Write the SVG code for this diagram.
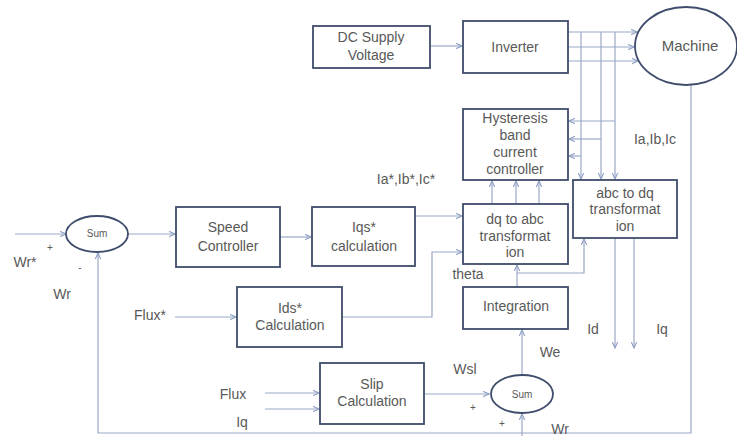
<svg xmlns="http://www.w3.org/2000/svg" width="737" height="436" viewBox="0 0 737 436">
<defs>
<marker id="ah" viewBox="0 0 10 10" refX="9" refY="5" markerWidth="7" markerHeight="7" orient="auto" markerUnits="userSpaceOnUse">
<path d="M0,1 L9,5 L0,9" fill="none" stroke="#8fa0c4" stroke-width="1.6"/>
</marker>
</defs>
<style>
.box{fill:#fff;stroke:#3f4c6b;stroke-width:1.8}
.ell{fill:#fff;stroke:#3f4c6b;stroke-width:1.8}
.ln{fill:none;stroke:#9aa8c6;stroke-width:1.2}
.ar{marker-end:url(#ah)}
text{font-family:"Liberation Sans",Arial,sans-serif;font-size:14px;fill:#595959;text-anchor:middle;dominant-baseline:middle}
.sm{font-size:10px}
</style>
<rect width="737" height="436" fill="#fff"/>
<g id="connectors">
<line class="ln ar" x1="430" y1="46" x2="462" y2="46"/>
<line class="ln ar" x1="568" y1="32" x2="637" y2="32"/>
<line class="ln ar" x1="568" y1="47" x2="634" y2="47"/>
<line class="ln ar" x1="568" y1="61" x2="638" y2="61"/>
<line class="ln ar" x1="581" y1="32" x2="581" y2="179"/>
<line class="ln ar" x1="601" y1="32" x2="601" y2="179"/>
<line class="ln ar" x1="615" y1="32" x2="615" y2="179"/>
<line class="ln ar" x1="615" y1="121" x2="569" y2="121"/>
<line class="ln ar" x1="601" y1="139" x2="569" y2="139"/>
<line class="ln ar" x1="581" y1="156" x2="569" y2="156"/>
<line class="ln ar" x1="492" y1="204" x2="492" y2="181"/>
<line class="ln ar" x1="516" y1="204" x2="516" y2="181"/>
<line class="ln ar" x1="539" y1="204" x2="539" y2="181"/>
<line class="ln ar" x1="15" y1="234" x2="66" y2="234"/>
<line class="ln ar" x1="128" y1="234" x2="175" y2="234"/>
<line class="ln ar" x1="280" y1="237" x2="311" y2="237"/>
<line class="ln ar" x1="415" y1="216" x2="462" y2="216"/>
<line class="ln ar" x1="175" y1="317" x2="236" y2="317"/>
<polyline class="ln ar" points="342,317 432,317 432,252 462,252"/>
<line class="ln ar" x1="517" y1="287" x2="517" y2="265"/>
<polyline class="ln ar" points="517,273 584,273 584,239"/>
<line class="ln ar" x1="615" y1="238" x2="615" y2="348"/>
<line class="ln ar" x1="634" y1="238" x2="634" y2="348"/>
<line class="ln ar" x1="522" y1="376" x2="522" y2="330"/>
<line class="ln ar" x1="265" y1="393" x2="319" y2="393"/>
<line class="ln ar" x1="265" y1="409" x2="319" y2="409"/>
<line class="ln ar" x1="424" y1="394" x2="489" y2="394"/>
<polyline class="ln ar" points="691,85 691,433 98,433 98,253"/>
<line class="ln ar" x1="522" y1="436" x2="522" y2="414"/>
</g>
<g id="dc"><rect class="box" x="313" y="26" width="117" height="42"/><text x="371" y="38">DC Supply</text><text x="371" y="56">Voltage</text></g>
<g id="inverter"><rect class="box" x="463" y="21" width="105" height="52"/><text x="515" y="48">Inverter</text></g>
<g id="machine"><ellipse class="ell" cx="686" cy="46" rx="51" ry="39"/><text x="690" y="47" style="font-size:15px">Machine</text></g>
<g id="hyst"><rect class="box" x="463" y="109" width="105" height="71"/><text x="515" y="119">Hysteresis</text><text x="515" y="136">band</text><text x="515" y="153">current</text><text x="515" y="170">controller</text></g>
<g id="abcdq"><rect class="box" x="573" y="180" width="104" height="58"/><text x="625" y="194">abc to dq</text><text x="625" y="210">transformat</text><text x="625" y="227">ion</text></g>
<g id="sum1"><ellipse class="ell" cx="97" cy="234" rx="31" ry="18"/><text class="sm" x="97" y="234">Sum</text></g>
<g id="speed"><rect class="box" x="176" y="207" width="104" height="60"/><text x="228" y="228">Speed</text><text x="228" y="247">Controller</text></g>
<g id="iqs"><rect class="box" x="312" y="207" width="103" height="59"/><text x="364" y="228">Iqs*</text><text x="364" y="247">calculation</text></g>
<g id="dqabc"><rect class="box" x="463" y="204" width="105" height="60"/><text x="515" y="220">dq to abc</text><text x="515" y="237">transformat</text><text x="515" y="253">ion</text></g>
<g id="ids"><rect class="box" x="237" y="287" width="105" height="60"/><text x="290" y="309">Ids*</text><text x="290" y="326">Calculation</text></g>
<g id="integ"><rect class="box" x="463" y="287" width="105" height="42"/><text x="516" y="307">Integration</text></g>
<g id="slip"><rect class="box" x="320" y="363" width="104" height="61"/><text x="372" y="385">Slip</text><text x="372" y="402">Calculation</text></g>
<g id="sum2"><ellipse class="ell" cx="522" cy="394" rx="31" ry="19"/><text class="sm" x="522" y="395">Sum</text></g>
<g id="labels">
<text x="655" y="140">Ia,Ib,Ic</text>
<text x="406" y="180">Ia*,Ib*,Ic*</text>
<text x="468" y="275">theta</text>
<text x="593" y="330">Id</text>
<text x="662" y="330">Iq</text>
<text x="550" y="353">We</text>
<text x="465" y="370">Wsl</text>
<text x="473" y="408" class="sm">+</text>
<text x="502" y="424" class="sm">+</text>
<text x="560" y="430">Wr</text>
<text x="50" y="248" class="sm">+</text>
<text x="25" y="263">Wr*</text>
<text x="80" y="268" class="sm">-</text>
<text x="62" y="295">Wr</text>
<text x="150" y="316">Flux*</text>
<text x="233" y="395">Flux</text>
<text x="242" y="423">Iq</text>
</g>
</svg>
